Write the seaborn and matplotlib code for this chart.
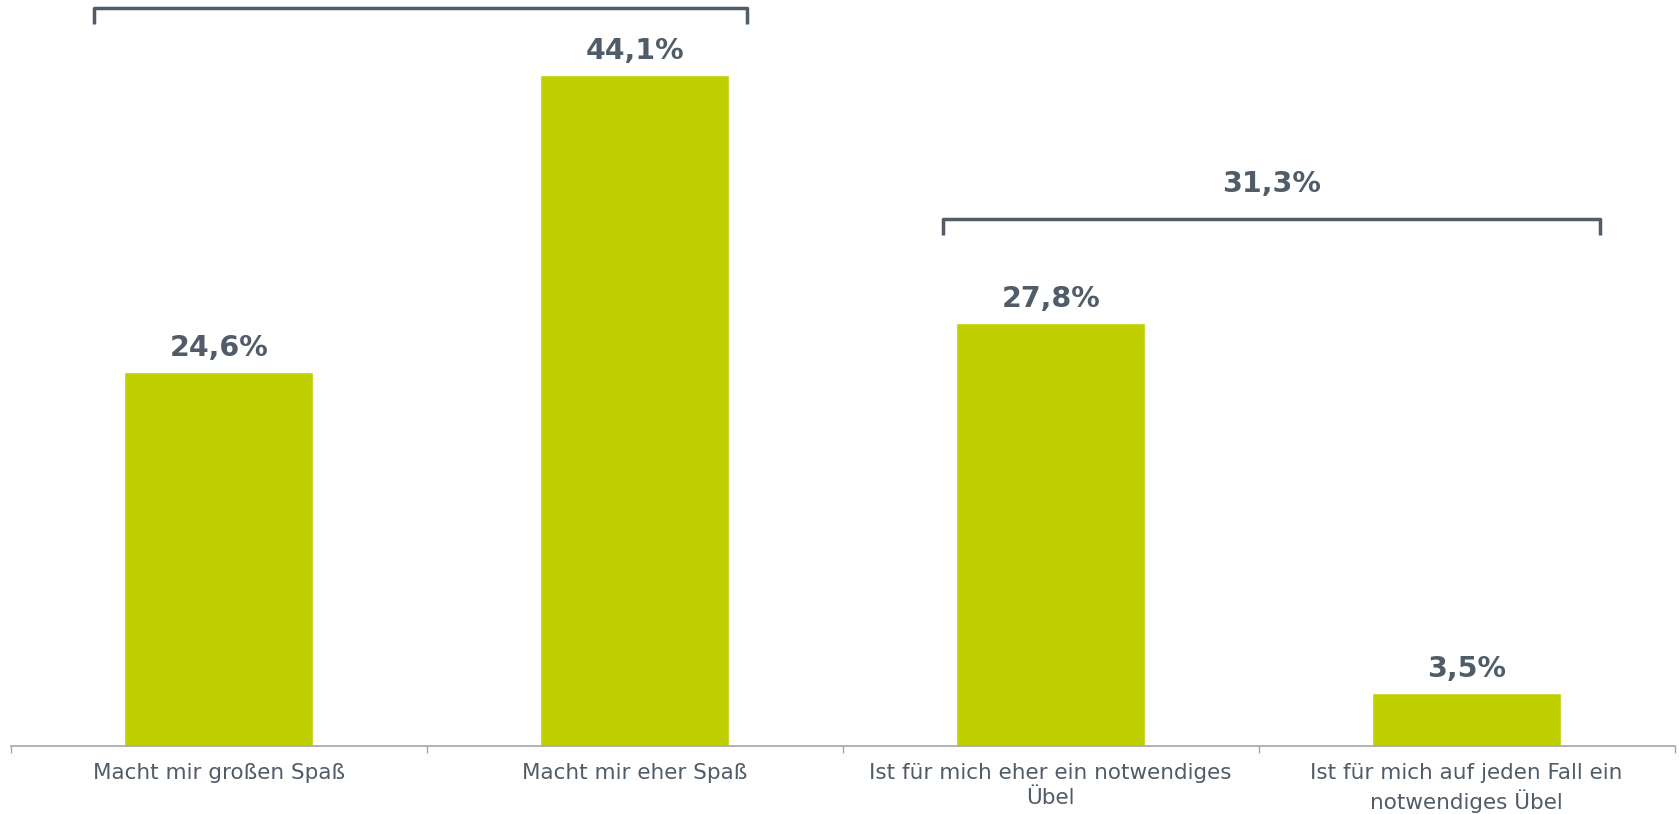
import pandas as pd
import numpy as np
import matplotlib
matplotlib.use("Agg")
import matplotlib.pyplot as plt
import seaborn as sns

# data
categories = ["Macht mir großen Spaß",
              "Macht mir eher Spaß",
              "Ist für mich eher ein notwendiges\nÜbel",
              "Ist für mich auf jeden Fall ein\nnotwendiges Übel"]
values = [24.6, 44.1, 27.8, 3.5]
# brackets: (first bar, last bar) grouped together
groups = [(0, 1), (2, 3)]

bar_color = "#C0CF00"
text_color = "#505C68"
axis_color = "#A3A6AA"

sns.set_theme(style="white")
plt.rcParams['font.family'] = ['DejaVu Sans']

df = pd.DataFrame({"Kategorie": categories, "Wert": values})

fig = plt.figure(figsize=(16.81, 8.14), dpi=100)
ax = fig.add_axes([0.0064, 0.083, 0.9898, 0.917])
sns.barplot(data=df, x="Kategorie", y="Wert", color=bar_color, width=0.455,
            saturation=1, ax=ax)

ax.set_xlim(-0.5, 3.5)
ax.set_ylim(0, 49)

# value labels on bars
for i, v in enumerate(values):
    ax.annotate(f"{v:.1f}%".replace(".", ","), (i, v), xytext=(0, 7),
                textcoords="offset points", ha="center", va="bottom",
                fontsize=20.5, fontweight="bold", color=text_color)

# brackets over groups (offsets / heights are layout, not data)
bracket_style = [(-0.30, 0.27, 48.45), (-0.26, 0.32, 34.6)]
for (a, b), (da, db, top) in zip(groups, bracket_style):
    x0 = a + da
    x1 = b + db
    ax.plot([x0, x0, x1, x1], [top - 1.0, top, top, top - 1.0],
            color=text_color, lw=2.5, solid_joinstyle="round",
            solid_capstyle="butt", clip_on=False)
    total = sum(values[a:b + 1])
    if top + 2.3 < 49:
        ax.text((x0 + x1) / 2, top + 2.3, f"{total:.1f}%".replace(".", ","),
                ha="center", va="center", fontsize=20.5, fontweight="bold",
                color=text_color)

# axis styling
for s in ["top", "right", "left"]:
    ax.spines[s].set_visible(False)
ax.spines["bottom"].set_color(axis_color)
ax.spines["bottom"].set_linewidth(1.2)
ax.set_yticks([])
ax.set_xlabel("")
ax.set_ylabel("")
ax.set_xticks(range(len(categories)))
ax.set_xticklabels(categories, fontsize=15.5, color=text_color, linespacing=1.3)
ax.set_xticks(np.arange(-0.5, len(categories), 1.0), minor=True)
ax.tick_params(axis="x", which="major", length=0, pad=12)
ax.tick_params(axis="x", which="minor", length=5, width=1, color=axis_color,
               direction="out", bottom=True)

fig.savefig("out.png", dpi=100, facecolor="white")
